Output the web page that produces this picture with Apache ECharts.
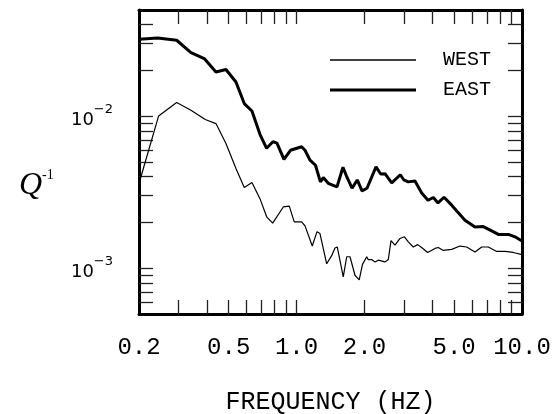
<!DOCTYPE html>
<html>
<head>
<meta charset="utf-8">
<script src="https://cdn.jsdelivr.net/npm/echarts@6/dist/echarts.min.js"></script>
<style>html,body{margin:0;padding:0;background:#fff;}#c{width:560px;height:414px;}</style>
</head>
<body>
<div id="c"></div>
<script>
// ---- data ----
const westFreq = [0.2, 0.2444, 0.2938, 0.340, 0.3935, 0.4389, 0.4861, 0.5384, 0.5861, 0.634, 0.688, 0.7369, 0.7834, 0.873, 0.9281, 0.9768, 1.053, 1.090, 1.174, 1.232, 1.270, 1.360, 1.431, 1.480, 1.515, 1.611, 1.669, 1.726, 1.816, 1.896, 1.961, 2.047, 2.080, 2.154, 2.228, 2.304, 2.467, 2.552, 2.624, 2.733, 2.876, 3.011, 3.058, 3.130, 3.294, 3.446, 3.589, 3.816, 4.112, 4.253, 4.475, 4.877, 5.308, 5.684, 6.186, 6.626, 7.088, 7.723, 8.408, 9.150, 10.0];
const westQ = [0.00361, 0.01005, 0.01231, 0.01095, 0.00951, 0.00895, 0.00661, 0.00453, 0.00340, 0.00366, 0.00287, 0.00218, 0.00198, 0.00253, 0.00256, 0.00202, 0.00202, 0.00190, 0.00140, 0.00174, 0.00169, 0.00107, 0.00121, 0.00136, 0.00138, 0.000877, 0.00119, 0.00119, 0.000899, 0.000838, 0.00106, 0.00119, 0.00114, 0.00114, 0.00110, 0.00113, 0.00110, 0.00114, 0.00152, 0.00142, 0.00157, 0.00161, 0.00164, 0.00149, 0.00138, 0.00143, 0.00137, 0.00127, 0.00135, 0.00137, 0.00131, 0.00133, 0.00140, 0.00138, 0.00128, 0.00138, 0.00138, 0.00129, 0.00129, 0.00127, 0.00123];
const eastFreq = [0.2, 0.242, 0.2938, 0.340, 0.3895, 0.4389, 0.4861, 0.5384, 0.5861, 0.634, 0.688, 0.7355, 0.7857, 0.8185, 0.8792, 0.9395, 1.053, 1.090, 1.147, 1.213, 1.276, 1.314, 1.382, 1.511, 1.606, 1.673, 1.762, 1.859, 1.951, 2.053, 2.251, 2.361, 2.467, 2.642, 2.885, 2.987, 3.130, 3.352, 3.589, 3.828, 4.043, 4.240, 4.508, 4.877, 5.147, 5.585, 6.186, 6.735, 7.337, 7.851, 8.697, 9.310, 10.0];
const eastQ = [0.0321, 0.03273, 0.03162, 0.02625, 0.02396, 0.01956, 0.02029, 0.01681, 0.01212, 0.01083, 0.00761, 0.00616, 0.00680, 0.00665, 0.00521, 0.00597, 0.00630, 0.00597, 0.00514, 0.00476, 0.00370, 0.00395, 0.00362, 0.00343, 0.00462, 0.00397, 0.00336, 0.00381, 0.00323, 0.00336, 0.00464, 0.00417, 0.00419, 0.00364, 0.00412, 0.00382, 0.00370, 0.00375, 0.00313, 0.00280, 0.00292, 0.00269, 0.00293, 0.00260, 0.00237, 0.00207, 0.00187, 0.00188, 0.00176, 0.00167, 0.00167, 0.00161, 0.00151];

const xLabelValues = [0.2, 0.5, 1, 2, 5, 10];
const xTickValues = [0.3, 0.4, 0.5, 0.6, 0.7, 0.8, 0.9, 1, 2, 3, 4, 5, 6, 7, 8, 9];
const yLabelValues = [0.001, 0.01];
const yTickValues = [0.0006, 0.0007, 0.0008, 0.0009, 0.001, 0.002, 0.003, 0.004, 0.005, 0.006, 0.007, 0.008, 0.009, 0.01, 0.02, 0.03, 0.04];
const seriesNames = ['WEST', 'EAST'];

const xMin = 0.2, xMax = 10, yMin = 0.0005, yMax = 0.05;

const chart = echarts.init(document.getElementById('c'), null, {renderer: 'canvas'});
const mono = '"Liberation Mono", "DejaVu Sans Mono", monospace';
const tickStyle = {color: '#222', width: 1.3};
const lineStyleAxis = {color: '#000', width: 3};

function xAxisDef(pos, showLabels) {
  return {
    type: 'log', logBase: 10, min: xMin, max: xMax, position: pos,
    axisLine: {show: true, lineStyle: lineStyleAxis},
    axisTick: {show: true, inside: true, length: 14, lineStyle: tickStyle, customValues: xTickValues},
    minorTick: {show: false},
    splitLine: {show: false},
    axisLabel: showLabels ? {
      show: true, customValues: xLabelValues, margin: 22,
      fontFamily: mono, fontSize: 24, color: '#000',
      showMinLabel: true, showMaxLabel: true,
      formatter: v => Number(v).toFixed(1)
    } : {show: false},
    name: showLabels ? 'FREQUENCY (HZ)' : '',
    nameLocation: 'middle', nameGap: 76,
    nameTextStyle: {fontFamily: mono, fontSize: 25, color: '#000'}
  };
}
function yAxisDef(pos, showLabels) {
  return {
    type: 'log', logBase: 10, min: yMin, max: yMax, position: pos,
    axisLine: {show: true, lineStyle: lineStyleAxis},
    axisTick: {show: true, inside: true, length: 14, lineStyle: tickStyle, customValues: yTickValues},
    minorTick: {show: false},
    splitLine: {show: false},
    axisLabel: showLabels ? {
      show: true, customValues: yLabelValues, margin: 26,
      formatter: v => '{b|10}{s|\u2212' + Math.round(-Math.log10(v)) + '}',
      rich: {
        b: {fontFamily: '"DejaVu Sans"', fontSize: 18, color: '#000', lineHeight: 26, verticalAlign: 'bottom'},
        s: {fontFamily: '"DejaVu Sans"', fontSize: 13, color: '#000', verticalAlign: 'top', lineHeight: 26}
      }
    } : {show: false}
  };
}

const option = {
  animation: false,
  backgroundColor: '#fff',
  grid: {left: 139, right: 38, top: 10, bottom: 100, containLabel: false, outerBoundsMode: 'none'},
  xAxis: [xAxisDef('bottom', true), xAxisDef('top', false)],
  yAxis: [yAxisDef('left', true), yAxisDef('right', false)],
  title: {
    text: '{q|Q}{s|-1}', left: 14, top: 163,
    textStyle: {
      fontWeight: 'normal',
      rich: {
        q: {fontFamily: '"Liberation Serif"', fontStyle: 'italic', fontWeight: 'normal', fontSize: 32, color: '#000', lineHeight: 34, verticalAlign: 'bottom'},
        s: {fontFamily: '"Liberation Serif"', fontWeight: 'normal', fontSize: 14, color: '#000', verticalAlign: 'top', lineHeight: 34}
      }
    }
  },
  legend: {
    orient: 'vertical', left: 330, top: 50, padding: 0,
    itemWidth: 86, itemHeight: 14, itemGap: 10,
    data: [
      {name: seriesNames[0], icon: 'path://M0,0H86V1.3H0Z'},
      {name: seriesNames[1], icon: 'path://M0,0H86V3H0Z'}
    ],
    itemStyle: {color: '#000', borderWidth: 0},
    formatter: n => '{p|}{t|' + n + '}',
    textStyle: {
      rich: {
        p: {width: 22},
        t: {fontFamily: mono, fontSize: 20, color: '#000'}
      }
    }
  },
  series: [
    {
      name: seriesNames[0], type: 'line', xAxisIndex: 0, yAxisIndex: 0,
      symbol: 'none', showSymbol: false,
      lineStyle: {color: '#000', width: 1.2},
      itemStyle: {color: '#000'},
      data: westFreq.map((f, i) => [f, westQ[i]])
    },
    {
      name: seriesNames[1], type: 'line', xAxisIndex: 0, yAxisIndex: 0,
      symbol: 'none', showSymbol: false,
      lineStyle: {color: '#000', width: 3},
      itemStyle: {color: '#000'},
      data: eastFreq.map((f, i) => [f, eastQ[i]])
    }
  ]
};
chart.setOption(option);
</script>
</body>
</html>
